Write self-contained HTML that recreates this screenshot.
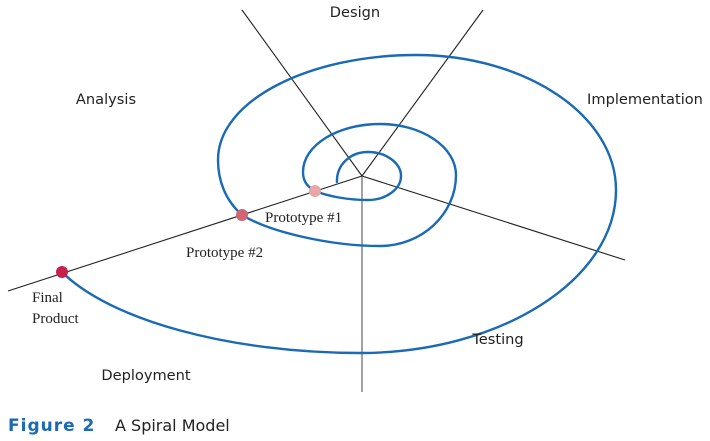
<!DOCTYPE html>
<html><head><meta charset="utf-8"><style>
html,body{margin:0;padding:0;background:#fff;}
svg{display:block;}
.s{font-family:"DejaVu Sans","Liberation Sans",sans-serif;font-size:14.6px;fill:#222;}
.r{font-family:"Liberation Serif",serif;font-size:15px;fill:#222;}
</style></head><body>
<svg width="710" height="441" viewBox="0 0 710 441" xmlns="http://www.w3.org/2000/svg">
<g stroke="#222" stroke-width="1.1" fill="none">
<line x1="362" y1="176" x2="242" y2="10"/>
<line x1="362" y1="176" x2="483" y2="10"/>
<line x1="362" y1="176" x2="625" y2="260"/>
<line x1="362" y1="176" x2="8" y2="291"/>
<line x1="362" y1="176" x2="362" y2="392" stroke="#555"/>
</g>
<path d="M337,183 C336,165 350,152 368,152 C386,152 401,163 401,176 C401,189 386,200 368,200 C350,200 330,197 315,191 C306,186 303,180 303,172 C303,145 338,124 380,124 C422,124 456,147 456,175 C456,214 422,246 380,246 C330,246 270,232 242,215 C225,200 218,180 218,160 C218,100 310,55 416,55 C525,55 616,115 616,190 C616,280 500,353 360,353 C230,353 110,320 62,272" fill="none" stroke="#1a6ab5" stroke-width="2.4"/>
<circle cx="315" cy="191" r="6" fill="#e8a6a8"/>
<circle cx="242" cy="215" r="6" fill="#d06575"/>
<circle cx="62" cy="272" r="6" fill="#c8204e"/>
<text class="s" x="355" y="17" text-anchor="middle">Design</text>
<text class="s" x="106" y="104" text-anchor="middle">Analysis</text>
<text class="s" x="645" y="104" text-anchor="middle">Implementation</text>
<text class="s" x="498" y="344" text-anchor="middle">Testing</text>
<text class="s" x="146" y="380" text-anchor="middle">Deployment</text>
<text class="r" x="265" y="222">Prototype #1</text>
<text class="r" x="186" y="257">Prototype #2</text>
<text class="r" x="32" y="302">Final</text>
<text class="r" x="32" y="323">Product</text>
<text x="8" y="431" font-family="DejaVu Sans,Liberation Sans,sans-serif" font-size="17" font-weight="bold" fill="#1a6ab5" letter-spacing="1">Figure 2</text>
<text x="115" y="431" font-family="DejaVu Sans,Liberation Sans,sans-serif" font-size="16" fill="#222">A Spiral Model</text>
</svg>
</body></html>
